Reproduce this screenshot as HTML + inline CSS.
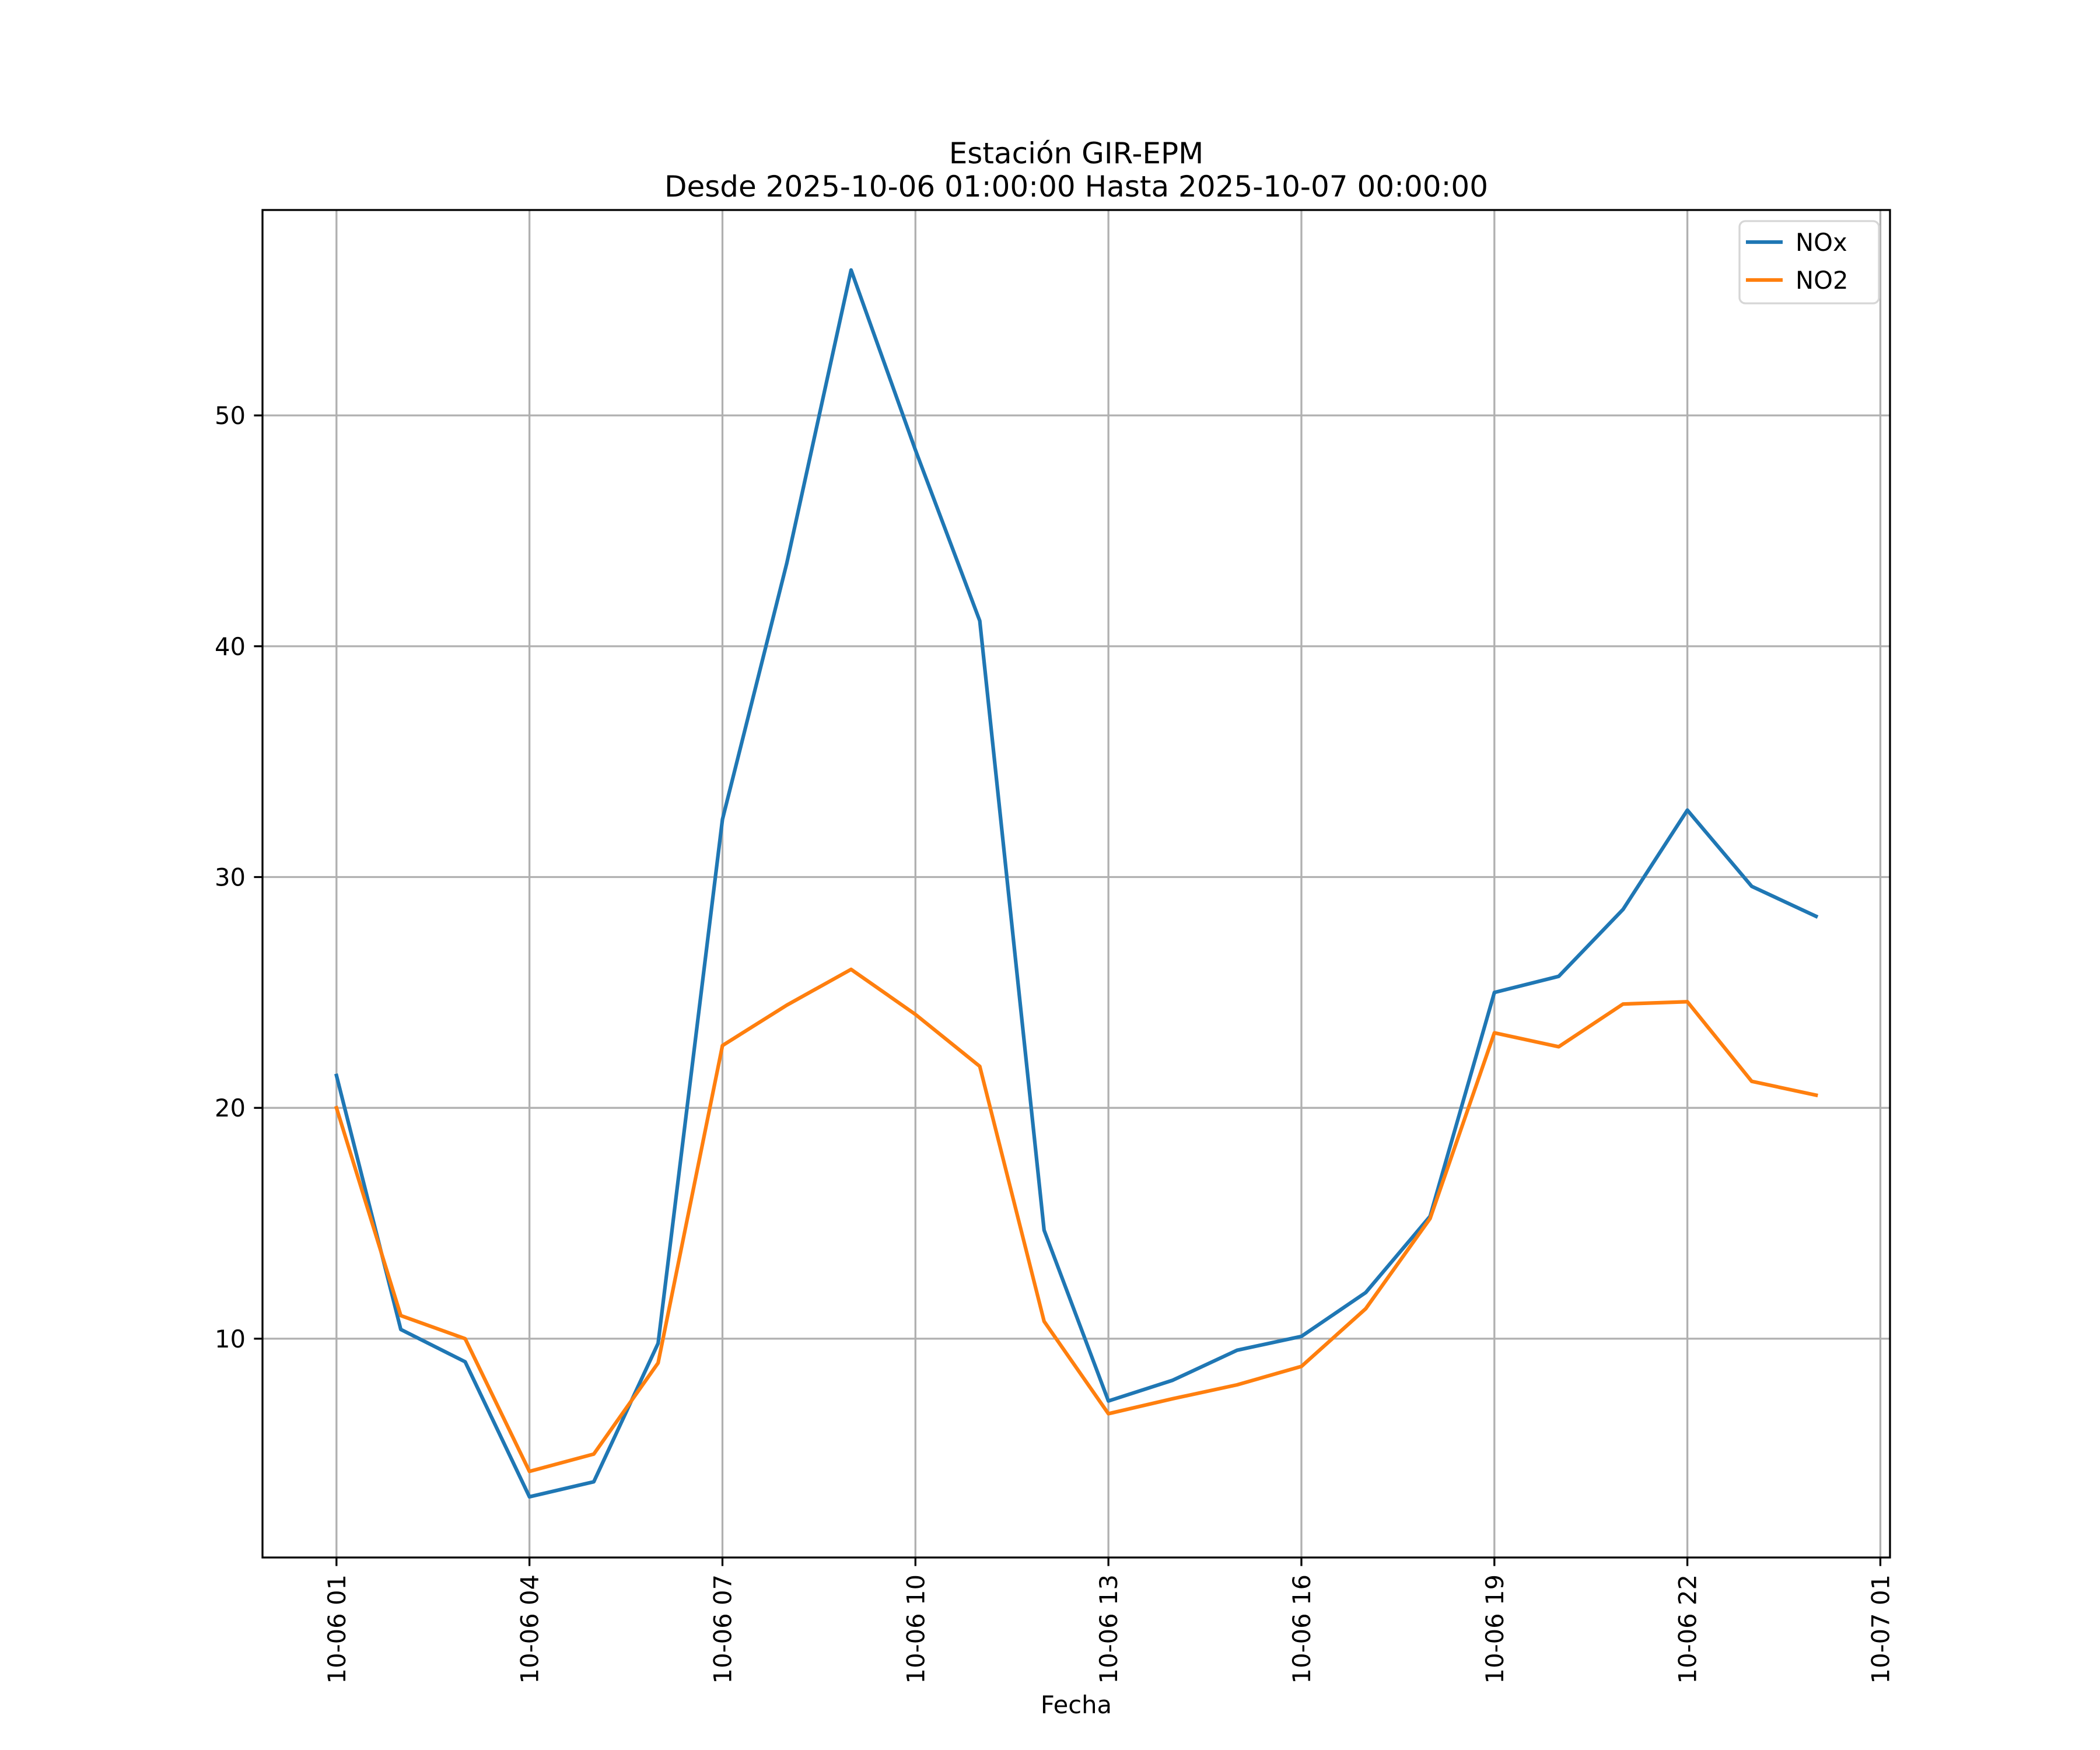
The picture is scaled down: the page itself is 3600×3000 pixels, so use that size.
<!DOCTYPE html>
<html><head><meta charset="utf-8"><style>
body{margin:0;background:#fff}
svg{display:block;font-family:"DejaVu Sans","Liberation Sans",sans-serif}
</style></head><body>
<svg id="chart" width="3600" height="3000" viewBox="0 0 3600 3000">
<rect width="3600" height="3000" fill="#fff"/>
<text x="1845" y="280" font-size="50" text-anchor="middle">Estación GIR-EPM</text>
<text x="1845" y="337" font-size="50" text-anchor="middle">Desde 2025-10-06 01:00:00 Hasta 2025-10-07 00:00:00</text>
<g id="grid"></g>
<g id="series"></g>
<rect x="450" y="360" width="2790" height="2310" fill="none" stroke="#000" stroke-width="3.3"/>
<g id="axes"></g>
<text x="1845" y="2937" font-size="41.7" text-anchor="middle">Fecha</text>
<g>
<rect x="2982" y="379" width="239" height="141" rx="10" fill="#fff" fill-opacity="0.8" stroke="#d6d6d6" stroke-width="3.3"/>
<line x1="2993" y1="415" x2="3056" y2="415" stroke="#1f77b4" stroke-width="6.25"/>
<text x="3078" y="430" font-size="41.7">NOx</text>
<line x1="2993" y1="480" x2="3056" y2="480" stroke="#ff7f0e" stroke-width="6.25"/>
<text x="3078" y="495" font-size="41.7">NO2</text>
</g>
</svg>
<script>
const hours = [0,1,2,3,4,5,6,7,8,9,10,11,12,13,14,15,16,17,18,19,20,21,22,23];
const noxValues = [21.4,10.4,9.0,3.15,3.8,9.8,32.5,43.6,56.3,48.5,41.1,14.7,7.3,8.2,9.5,10.1,12.0,15.3,25.0,25.7,28.6,32.9,29.6,28.3];
const no2Values = [20.0,11.0,10.0,4.25,5.0,8.95,22.7,24.45,26.0,24.05,21.8,10.75,6.75,7.4,8.0,8.8,11.3,15.2,23.25,22.65,24.5,24.6,21.15,20.55];
const xTickHours = [0,3,6,9,12,15,18,21,24];
const xTickLabels = ["10-06 01","10-06 04","10-06 07","10-06 10","10-06 13","10-06 16","10-06 19","10-06 22","10-07 01"];
const yTicks = [10,20,30,40,50];

const NS="http://www.w3.org/2000/svg";
const L=450,R=3240,T=360,B=2670;
const xMin=-1.15,xMax=24.15;
const yMin=0.52,yMax=58.9;
function xs(h){return L+(h-xMin)/(xMax-xMin)*(R-L);}
function ys(v){return B-(v-yMin)/(yMax-yMin)*(B-T);}
function mk(tag,attrs,parent){const e=document.createElementNS(NS,tag);for(const k in attrs)e.setAttribute(k,attrs[k]);parent.appendChild(e);return e;}
const grid=document.getElementById('grid'),axes=document.getElementById('axes'),series=document.getElementById('series');
xTickHours.forEach((h,i)=>{
  const x=xs(h);
  const g=mk('line',{x1:x,y1:T,x2:x,y2:B,stroke:'#b0b0b0','stroke-width':3.3},grid);
  
  
  const t=mk('line',{x1:x,y1:B,x2:x,y2:B+14.6,stroke:'#000','stroke-width':3.3},axes);
  
  
  const lb=mk('text',{x:0,y:0,'font-size':41.7,'text-anchor':'end',transform:`translate(${x+15},${B+29}) rotate(-90)`},axes);
  lb.textContent=xTickLabels[i];
  
  
});
yTicks.forEach(v=>{
  const y=ys(v);
  const g=mk('line',{x1:L,y1:y,x2:R,y2:y,stroke:'#b0b0b0','stroke-width':3.3},grid);
  
  
  const t=mk('line',{x1:L-14.6,y1:y,x2:L,y2:y,stroke:'#000','stroke-width':3.3},axes);
  
  
  const lb=mk('text',{x:L-29,y:y+15,'font-size':41.7,'text-anchor':'end'},axes);
  lb.textContent=v;
  
  
});
function line(vals,color,name){
  const pts=hours.map((h,i)=>xs(h).toFixed(1)+','+ys(vals[i]).toFixed(1)).join(' ');
  const p=mk('polyline',{points:pts,fill:'none',stroke:color,'stroke-width':6.25,'stroke-linejoin':'round','stroke-linecap':'square'},series);
  
  
}
line(noxValues,'#1f77b4','nox-line');
line(no2Values,'#ff7f0e','no2-line');
</script>
</body></html>
